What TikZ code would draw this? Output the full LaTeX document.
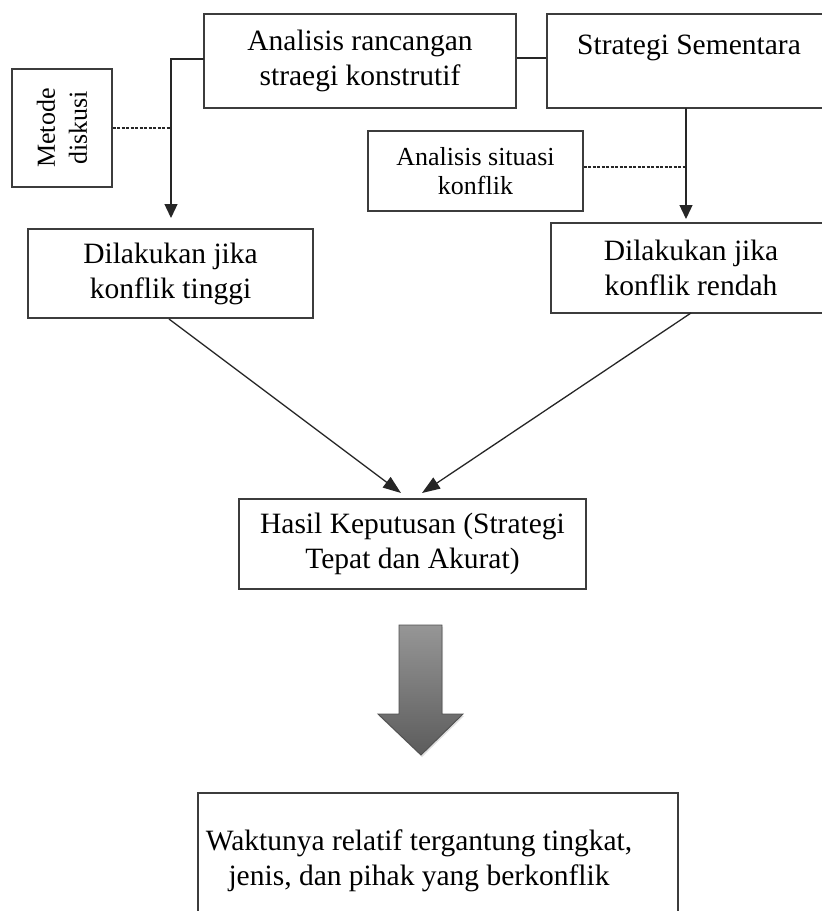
\documentclass[tikz,border=0pt]{standalone}
\usepackage{fontspec}
\setmainfont{Liberation Serif}
\usetikzlibrary{arrows.meta,shadows}

\definecolor{edgec}{HTML}{3C3C3C}
\definecolor{arrtop}{HTML}{969696}
\definecolor{arrbot}{HTML}{5C5C5C}

\tikzset{
  box/.style={draw=edgec, line width=1.4pt, inner sep=0pt, align=center,
              font=\fontsize{29.5}{35}\selectfont},
  smallbox/.style={box, font=\fontsize{26}{29}\selectfont},
  txt/.style={inner sep=0pt, align=center, font=\fontsize{29.5}{35}\selectfont},
  link/.style={draw=black!85, line width=1.3pt},
  flow/.style={link, -{Triangle[length=14pt,width=13pt]}},
  longflow/.style={link, -{Triangle[length=18pt,width=13pt]}},
  dotlink/.style={draw=black!85, line width=1.1pt, dash pattern=on 3pt off 1.5pt},
}

\begin{document}
\begin{tikzpicture}[x=1pt,y=-1pt]
\useasboundingbox (0,0) rectangle (822,911);

% top row
\node[box, minimum width=312pt, minimum height=94pt] (A) at (360,61)
  {Analisis rancangan\\straegi konstrutif};
\node[box, minimum width=278pt, minimum height=94pt] (S) at (686,61) {};
\node[txt, anchor=base] (St) at (689,54) {Strategi Sementara};

% side notes
\node[box, minimum width=100pt, minimum height=118pt] (M) at (62,128) {};
\node[txt, rotate=90, font=\fontsize{26}{32}\selectfont] (Mt) at (62,128) {Metode\\diskusi};
\node[smallbox, minimum width=215pt, minimum height=80pt] (As) at (475.5,171)
  {Analisis situasi\\konflik};

% middle row
\node[box, minimum width=285pt, minimum height=89pt] (D1) at (170.5,273.5)
  {Dilakukan jika\\konflik tinggi};
\node[box, minimum width=280pt, minimum height=90pt] (D2) at (691,268)
  {Dilakukan jika\\konflik rendah};

% decision
\node[box, minimum width=347pt, minimum height=90pt] (H) at (412.5,544)
  {Hasil Keputusan (Strategi\\Tepat dan Akurat)};

% result
\node[box, minimum width=480pt, minimum height=150pt] (W) at (438,868) {};
\node[txt] (Wt) at (419,861) {Waktunya relatif tergantung tingkat,\\jenis, dan pihak yang berkonflik};

% connectors
\coordinate (a1) at (204,59);
\coordinate (v1) at (171,59);
\coordinate (v1e) at (171,218);
\coordinate (v2s) at (686,108);
\coordinate (v2e) at (686,219);
\coordinate (h1) at (401,493);
\coordinate (h2) at (422,493);
\coordinate (t1) at (169,319);
\coordinate (t2) at (691,313);

\draw[link] ([yshift=3pt]A.east) -- ([yshift=3pt]A.east -| S.west);
\draw[flow] (a1) -- (v1) -- (v1e);
\draw[dotlink] (M.east) -- (M.east -| v1);
\draw[flow] (v2s) -- (v2e);
\draw[dotlink] ([yshift=4pt]As.east) -- ([yshift=4pt]As.east -| v2s);
\draw[longflow] (t1) -- (h1);
\draw[longflow] (t2) -- (h2);

% block arrow
\path[draw=edgec!90, line width=0.9pt, top color=arrtop, bottom color=arrbot,
      drop shadow={opacity=0.25, shadow xshift=1pt, shadow yshift=-2pt}]
  (399,625) -- (442,625) -- (442,714) -- (463,714) -- (421,755)
  -- (378,714) -- (399,714) -- cycle;
\end{tikzpicture}
\end{document}
